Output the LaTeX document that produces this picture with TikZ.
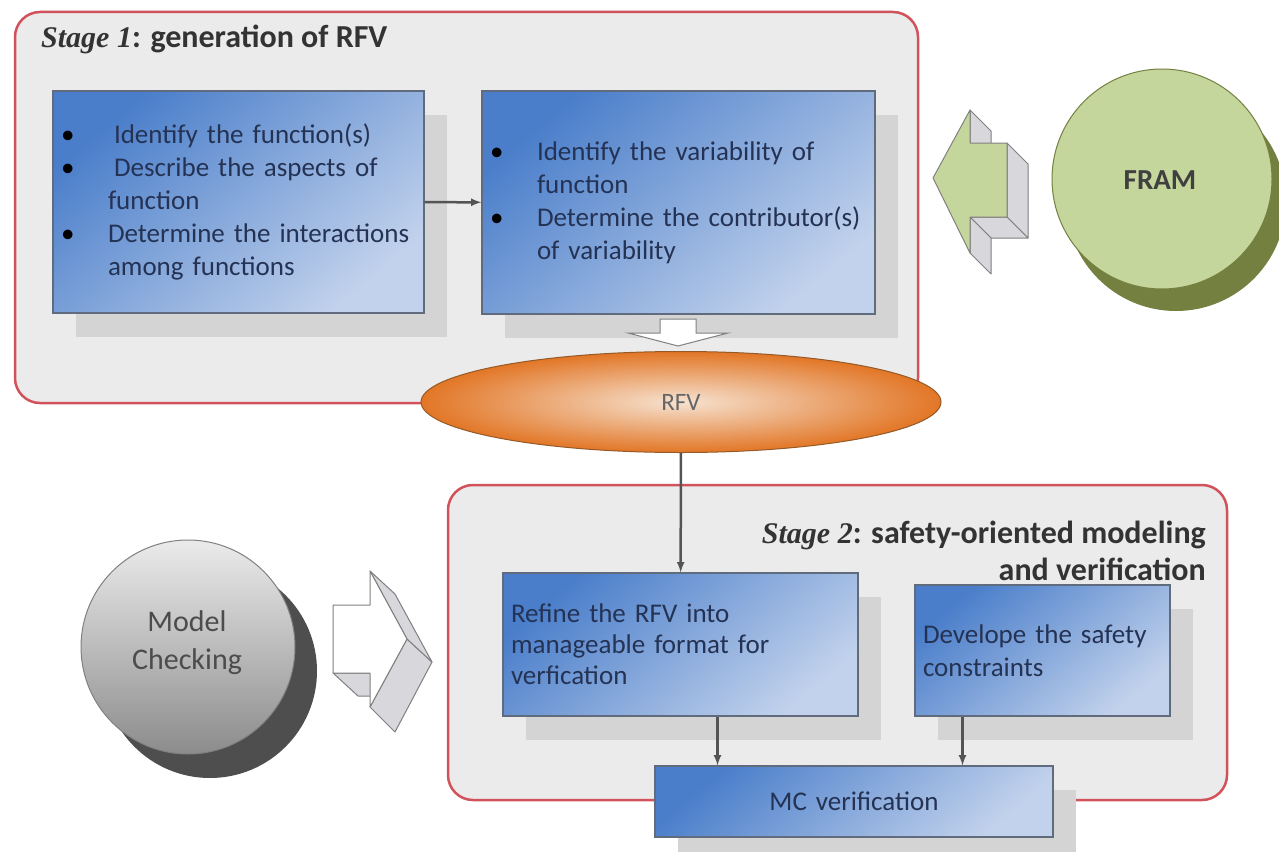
\documentclass[tikz,border=0pt]{standalone}
\usepackage{fontspec}
\setmainfont{Carlito}
\newfontfamily\stageserif{Liberation Serif}
\usetikzlibrary{shapes.geometric,shadows}

\definecolor{stagered}{RGB}{210,82,92}
\definecolor{stagegray}{RGB}{235,235,235}
\definecolor{boxdark}{RGB}{74,126,202}
\definecolor{boxlight}{RGB}{194,210,236}
\definecolor{boxline}{RGB}{96,108,126}
\definecolor{boxtext}{RGB}{36,50,84}
\definecolor{shadowgray}{RGB}{212,212,212}
\definecolor{flowgray}{RGB}{84,84,84}
\definecolor{rfvdark}{RGB}{226,118,38}
\definecolor{rfvlight}{RGB}{246,226,208}
\definecolor{rfvline}{RGB}{150,90,40}
\definecolor{framgreen}{RGB}{196,214,156}
\definecolor{framdark}{RGB}{116,128,64}
\definecolor{sidegray}{RGB}{216,216,220}
\definecolor{mcdark}{RGB}{78,78,78}

\newcommand\fnfont{\fontsize{27}{33}\selectfont}
\newcommand\bitem{\makebox[47pt][l]{\color{black}\textbullet}}
\newcommand\bcont{\hspace*{47pt}}

\tikzset{
  stage/.style    = {draw=stagered, line width=2.5pt, fill=stagegray,
                     rounded corners=25pt},
  fnbox/.style    = {shape=rectangle, draw=boxline, line width=1.2pt,
                     top color=boxdark, bottom color=boxlight, shading angle=40,
                     text=boxtext, align=left, inner xsep=8pt, font=\fnfont,
                     drop shadow={shadow xshift=23pt, shadow yshift=-24pt,
                                  fill=shadowgray, opacity=1}},
  mcbox/.style    = {fnbox, align=center},
  title/.style    = {font=\fontsize{32}{37}\selectfont\bfseries,
                     text=black!80, inner sep=0pt},
  stagename/.style = {font=\stageserif\bfseries\itshape\fontsize{30}{37}\selectfont},
  flow/.style     = {draw=flowgray, line width=2.5pt, -latex},
  hollow/.style   = {draw=gray, line width=1pt, fill=white},
  side/.style     = {draw=gray, line width=1pt, fill=sidegray, line join=round}
}

\begin{document}
\begin{tikzpicture}
[
x=1pt, y=-1pt,
    every node/.style = {font=\fnfont}
  ]
\useasboundingbox (0,0) rectangle (1279,851);

% stage 1
\draw[stage] (15,12) rectangle (918,403);
\node[title, anchor=base west] (stageone) at (41,48)
  {{\stageserif\bfseries\itshape\fontsize{30}{37}\selectfont Stage 1}: generation of RFV};

\node[fnbox, text width=355pt, minimum height=222pt] (idbox) at (238.5,202)
  {\bitem\hspace{6pt}Identify the function(s)\\
   \bitem\hspace{6pt}Describe the aspects of\\
   \bcont function\\
   \bitem Determine the interactions\\
   \bcont among functions};
\node[fnbox, text width=377pt, minimum height=223pt] (varbox) at (678.5,202.5)
  {\bitem Identify the variability of\\
   \bcont function\\
   \bitem Determine the contributor(s)\\
   \bcont of variability};
\draw[flow] (idbox) -- (varbox);

% hollow arrow into the RFV
\draw[hollow] (660,319) -- (696,319) -- (696,333) -- (728,333) -- (678,346)
  -- (628,333) -- (660,333) -- cycle;

\node[shape=ellipse, draw=rfvline, line width=1pt, inner color=rfvlight,
      outer color=rfvdark, minimum width=520pt, minimum height=101pt,
      text=black!60, font=\fontsize{25}{30}\selectfont] (rfv) at (681,402) {RFV};

% FRAM
\fill[framdark] (1176,201) circle (110);
\draw[draw=framdark, line width=1pt, fill=framgreen] (1162,179) circle (110);
\node[text=black!75, font=\fontsize{29}{34}\selectfont\bfseries] (fram) at (1160,180) {FRAM};

\draw[side] (970,110) -- (991,131) -- (991,164) -- (970,143) -- cycle;
\draw[side] (1007,143) -- (1028,164) -- (1028,238) -- (1007,217) -- cycle;
\draw[side] (1007,217) -- (1028,238) -- (991,238) -- (970,217) -- cycle;
\draw[side] (970,217) -- (991,238) -- (991,274) -- (970,253) -- cycle;
\draw[draw=gray, line width=1pt, fill=framgreen, line join=round]
  (933,178) -- (970,110) -- (970,143) -- (1007,143) -- (1007,217)
  -- (970,217) -- (970,253) -- cycle;

% stage 2
\draw[stage] (448,485) rectangle (1227,800);
\node[title, anchor=north east, align=right] (stagetwo) at (1206,521)
  {{\stageserif\bfseries\itshape\fontsize{30}{37}\selectfont Stage 2}: safety-oriented modeling\\
   and verification};

\node[fnbox, text width=339pt, minimum height=143pt,
      font=\fontsize{27}{31}\selectfont] (refinebox) at (680.5,644.5)
  {Refine the RFV into\\ manageable format for\\ verfication};
\node[fnbox, text width=239pt, minimum height=131pt] (safebox) at (1042.5,650.5)
  {Develope the safety\\ constraints};
\node[mcbox, text width=382pt, minimum height=71pt] (mcbox) at (854,801.5)
  {MC verification};

\draw[flow] (rfv) -- (refinebox);
\draw[flow] ([xshift=37pt]refinebox.south) -- ([xshift=37pt]refinebox.south |- mcbox.north);
\draw[flow] ([xshift=-80pt]safebox.south) -- ([xshift=-80pt]safebox.south |- mcbox.north);

% model checking
\fill[mcdark] (210,671) circle (107);
\draw[draw=gray, line width=1pt, top color=white!92!black, bottom color=black!45]
  (188,647) circle (107);
\node[align=center, text=black!70, font=\fontsize{30}{38}\selectfont] (mc) at (187,643)
  {Model\\ Checking};

\draw[side] (333,673) -- (358,696) -- (395,696) -- (370,673) -- cycle;
\draw[side] (370,707) -- (395,732) -- (432,662) -- (407,639) -- cycle;
\draw[side] (370,571) -- (395,594) -- (432,662) -- (407,639) -- cycle;
\draw[draw=gray, line width=1pt, fill=white, line join=round]
  (333,605) -- (370,605) -- (370,571) -- (407,639) -- (370,707)
  -- (370,673) -- (333,673) -- cycle;
\end{tikzpicture}
\end{document}
